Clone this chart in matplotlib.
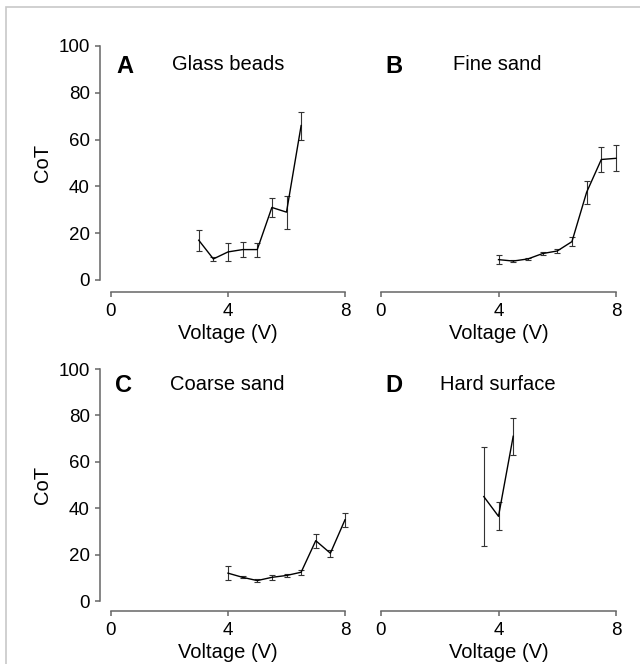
import matplotlib.pyplot as plt
from matplotlib.patches import Rectangle

plt.rcParams['font.family'] = ['Liberation Sans', 'DejaVu Sans']

# Panel data: voltage, mean CoT, error
volt_a = [3.0, 3.5, 4.0, 4.5, 5.0, 5.5, 6.0, 6.5]
cot_a = [17, 9, 12, 13, 13, 31, 29, 66]
err_a = [4.5, 1, 4, 3.3, 3, 4, 7, 6]

volt_b = [4.0, 4.5, 5.0, 5.5, 6.0, 6.5, 7.0, 7.5, 8.0]
cot_b = [8.7, 8.1, 9, 11.3, 12.4, 16.4, 37.5, 51.5, 52]
err_b = [2, 0.5, 0.6, 0.8, 0.8, 2, 5, 5.5, 5.5]

volt_c = [4.0, 4.5, 5.0, 5.5, 6.0, 6.5, 7.0, 7.5, 8.0]
cot_c = [12, 10.2, 8.8, 10.2, 11, 12.4, 26, 20.6, 35]
err_c = [3, 0.5, 0.5, 1, 0.5, 1, 3, 1.5, 3]

volt_d = [3.5, 4.0, 4.5]
cot_d = [45, 36.5, 71]
err_d = [21.5, 6, 8]

panels = [
    ("A", "Glass beads", volt_a, cot_a, err_a),
    ("B", "Fine sand", volt_b, cot_b, err_b),
    ("C", "Coarse sand", volt_c, cot_c, err_c),
    ("D", "Hard surface", volt_d, cot_d, err_d),
]

fig = plt.figure(figsize=(6.4, 6.64), dpi=100)
fig.patches.append(Rectangle((6 / 640, -0.1), 1.2, 1 - 7 / 664 + 0.1,
                             transform=fig.transFigure, fill=False,
                             edgecolor='#c8c8c8', linewidth=1.2))

# axes boxes (left, bottom, width, height) in figure fractions
boxes = [
    (111 / 640, 1 - 280 / 664, 234 / 640, 234 / 664),
    (381 / 640, 1 - 280 / 664, 235 / 640, 234 / 664),
    (111 / 640, 1 - 601 / 664, 234 / 640, 232 / 664),
    (381 / 640, 1 - 601 / 664, 235 / 640, 232 / 664),
]
x_offset = [8.6, 8.6, 7.2, 7.2]  # points
letter_pos = [(0.025, 0.912), (0.02, 0.912), (0.018, 0.93), (0.02, 0.93)]
title_pos = [(0.26, 0.92), (0.307, 0.92), (0.25, 0.935), (0.25, 0.935)]

spine_col = '#666666'
for i, (letter, title, x, y, e) in enumerate(panels):
    ax = fig.add_axes(boxes[i])
    cont = ax.errorbar(x, y, yerr=e, color='black', linewidth=1.0,
                       ecolor='#333333', elinewidth=0.8, capsize=2.2, capthick=0.8)
    for art in cont.get_children():
        art.set_clip_on(False)
    ax.set_xlim(0, 8)
    ax.set_ylim(0, 100)
    ax.patch.set_visible(False)
    for s in ['top', 'right']:
        ax.spines[s].set_visible(False)
    ax.spines['bottom'].set_position(('outward', x_offset[i]))
    ax.spines['bottom'].set_color(spine_col)
    ax.spines['bottom'].set_linewidth(1.1)
    ax.set_xticks([0, 4, 8])
    ax.tick_params(axis='x', direction='out', length=3.6, width=1.1,
                   color=spine_col, labelsize=13.5, pad=4.5)
    ax.set_xlabel("Voltage (V)", fontsize=14.5, labelpad=3)
    if i % 2 == 0:
        ax.spines['left'].set_position(('outward', 8))
        ax.spines['left'].set_color(spine_col)
        ax.spines['left'].set_linewidth(1.1)
        ax.set_yticks([0, 20, 40, 60, 80, 100])
        ax.tick_params(axis='y', direction='out', length=3.6, width=1.1,
                       color=spine_col, labelsize=13.5, pad=3.6)
        ax.set_ylabel("CoT", fontsize=14.5, labelpad=5)
    else:
        ax.spines['left'].set_visible(False)
        ax.set_yticks([])
    ax.text(*letter_pos[i], letter, transform=ax.transAxes, fontsize=17,
            fontweight='bold', va='center', ha='left')
    ax.text(*title_pos[i], title, transform=ax.transAxes, fontsize=14.5,
            va='center', ha='left')

fig.savefig("out.png", dpi=100)
